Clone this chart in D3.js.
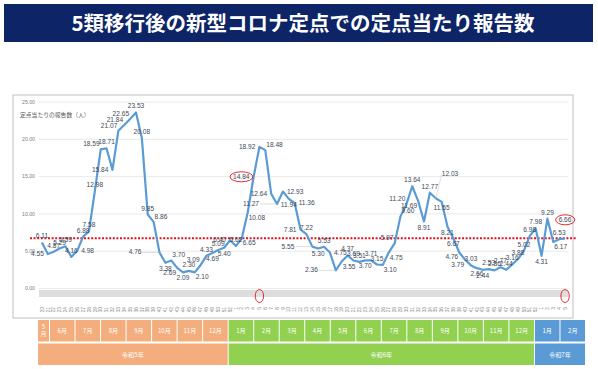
<!DOCTYPE html>
<html><head><meta charset="utf-8">
<script src="https://cdn.jsdelivr.net/npm/d3@7"></script>
<style>
body{margin:0;background:#fff;}
svg{display:block;font-family:"Noto Sans CJK JP","Noto Sans",sans-serif;}
</style>
</head><body><svg id="c" width="598" height="369"></svg>
<script>
// ---------- data ----------
const title = "5類移行後の新型コロナ定点での定点当たり報告数";
const yAxisTitle = "定点当たりの報告数（人）";
const weekLabels = ["20","21","22","23","24","25","26","27","28","29","30","31","32","33","34","35","36","37","38","39","40","41","42","43","44","45","46","47","48","49","50","51","52",
  "1","2","3","4","5","6","7","8","9","10","11","12","13","14","15","16","17","18","19","20","21","22","23","24","25","26","27","28","29","30","31","32","33","34","35","36","37","38","39","40","41","42","43","44","45","46","47","48","49","50","51","52",
  "1","2","3","4","5"];
const values = [6.11,4.55,4.87,5.29,5.59,4.16,4.98,6.88,7.58,12.98,18.59,18.71,15.84,21.07,21.84,22.65,23.53,20.08,9.85,8.86,
  4.76,3.38,3.70,2.69,2.09,2.30,2.10,3.09,4.33,4.69,5.09,5.40,6.40,5.62,
  6.65,10.08,14.84,18.92,18.48,12.64,11.27,12.93,11.94,11.36,7.81,7.22,5.55,5.30,5.53,4.75,2.36,3.55,4.37,3.69,3.51,3.70,3.71,3.15,3.10,4.75,
  5.97,9.60,11.20,13.64,11.69,8.91,12.77,12.03,11.55,8.21,6.67,4.76,3.79,3.03,2.66,2.44,2.53,2.36,2.77,2.44,3.16,3.88,5.02,6.98,7.98,4.31,
  9.29,6.17,6.53,6.66];
const yTicks = [0,5,10,15,20,25];
const referenceValue = 6.66;
const highlightValueIdx = [36, 89];
const highlightWeekIdx = [37, 89];
const monthLabels = ["5月","6月","7月","8月","9月","10月","11月","12月","1月","2月","3月","4月","5月","6月","7月","8月","9月","10月","11月","12月","1月","2月"];
const yearLabels = ["令和5年","令和6年","令和7年"];
const yearMonthCounts = [8,12,2];

// label placement codes (style only, one per point)
const labelSide = "tlttttrttt"+"LtlLLLtttR"+"FbRxbtyLtb"+"tbltyyllRl"+"FrbrltFbtr"+"Fytttbttyy"+"LRLtxbtUbb"+"bxxtbbtttt"+"tttttbtytV";

// ---------- layout ----------
const svg = d3.select("#c");
const yearColors = ["#F4AE7E","#92D050","#5B9BD5"];

// title bar
svg.append("rect").attr("x",4).attr("y",4).attr("width",589).attr("height",38).attr("fill","#0D2466");
svg.append("text").attr("x",303).attr("y",31).attr("text-anchor","middle")
  .attr("fill","#fff").attr("font-size",20.5).attr("font-weight",700).text(title);

// chart frame
svg.append("rect").attr("x",13).attr("y",95).attr("width",560).attr("height",223)
  .attr("fill","#fff").attr("stroke","#BFBFBF").attr("stroke-width",1);

const x = d3.scaleBand().domain(d3.range(values.length)).range([39,568]).padding(0);
const cx = i => x(i) + x.bandwidth()/2;
const y = d3.scaleLinear().domain([0,25]).range([288,101.5]);

// grid + y axis
const gy = svg.append("g").attr("transform","translate(39,0)")
  .call(d3.axisLeft(y).tickValues(yTicks).tickFormat(d=>d.toFixed(2)).tickSize(-529).tickPadding(4));
gy.select(".domain").remove();
gy.selectAll(".tick line").attr("stroke","#E4E4E4").attr("stroke-width",0.8);
gy.selectAll(".tick text").attr("fill","#808080").attr("font-size",5.2).attr("font-family","Liberation Sans, sans-serif");

svg.append("text").attr("x",20).attr("y",117).attr("font-size",5.8).attr("fill","#595959").text(yAxisTitle);

// x axis band + labels
svg.append("rect").attr("x",39).attr("y",290).attr("width",529).attr("height",7).attr("fill","#DDDDDD");
const gx = svg.append("g").attr("transform","translate(0,297)")
  .call(d3.axisBottom(x).tickFormat(i=>weekLabels[i]).tickSize(0).tickPadding(0));
gx.select(".domain").remove();
gx.selectAll(".tick text")
  .attr("font-size",4.8).attr("fill","#8A8A8A").attr("font-family","Liberation Sans, sans-serif")
  .attr("text-anchor","end").attr("dy","0.35em")
  .attr("transform","translate(0,1) rotate(-90)").attr("x",-9).attr("y",0);

// reference line
svg.append("line").attr("x1",30).attr("x2",577).attr("y1",y(referenceValue)).attr("y2",y(referenceValue))
  .attr("stroke","#E0141E").attr("stroke-width",2).attr("stroke-dasharray","2,1.6");

// series line
svg.append("path").datum(values)
  .attr("d", d3.line().x((d,i)=>cx(i)).y(d=>y(d)))
  .attr("fill","none").attr("stroke","#5B9BD5").attr("stroke-width",2.2).attr("stroke-linejoin","round");

// data labels
const place = {
  t:[0,-4,"middle"], b:[0,8,"middle"], l:[-4,2,"end"], r:[4,2,"start"],
  L:[-1,-3,"end"], R:[1,-3,"start"], x:[-1,7,"end"], y:[1,7,"start"],
  F:[-18,2,"end"], U:[6,-22,"start"], V:[0,-16,"middle"]
};
const labels = svg.append("g");
const labelNodes = [];
values.forEach((v,i)=>{
  const code = labelSide[i] || "t";
  const p = place[code];
  const px = cx(i), py = y(v);
  if (code==="F" || code==="U") {
    labels.append("line").attr("x1",px).attr("y1",py).attr("x2",px+p[0]+(code==="F"?1:0)).attr("y2",py+p[1]-2)
      .attr("stroke","#BFBFBF").attr("stroke-width",0.5);
  }
  const t = labels.append("text").attr("x",px+p[0]).attr("y",py+p[1])
    .attr("text-anchor",p[2]).attr("font-size",6.6).attr("fill","#404A5A")
    .attr("font-family","Liberation Sans, Arial, sans-serif").text(v.toFixed(2));
  labelNodes[i]=t;
});

// highlight ellipses
highlightValueIdx.forEach(i=>{
  const b = labelNodes[i].node().getBBox();
  svg.append("ellipse").attr("cx",b.x+b.width/2).attr("cy",b.y+b.height/2)
    .attr("rx",b.width/2+3).attr("ry",b.height/2+1.5)
    .attr("fill","none").attr("stroke","#E0141E").attr("stroke-width",0.9);
});
highlightWeekIdx.forEach(i=>{
  svg.append("ellipse").attr("cx",cx(i)).attr("cy",296).attr("rx",4.2).attr("ry",6.5)
    .attr("fill","none").attr("stroke","#E0141E").attr("stroke-width",0.9);
});

// month / year bands
const unit = d3.scaleLinear().domain([0, 21.47]).range([38, 586]);
let acc = 0;
const monthStarts = monthLabels.map((m,k)=>{ const s=acc; acc += (k===0?0.47:1); return [s,acc]; });
const yearOfMonth = [];
yearMonthCounts.forEach((c,yi)=>{ for(let k=0;k<c;k++) yearOfMonth.push(yi); });
monthLabels.forEach((m,k)=>{
  const [s,e] = monthStarts[k];
  const x0 = unit(s), x1 = unit(e);
  svg.append("rect").attr("x",x0).attr("y",320).attr("width",x1-x0-1).attr("height",21.5)
    .attr("fill",yearColors[yearOfMonth[k]]);
  if (k===0) {
    const t = svg.append("text").attr("x",(x0+x1-1)/2).attr("y",329).attr("text-anchor","middle")
      .attr("fill","#fff").attr("font-size",6);
    t.append("tspan").attr("x",(x0+x1-1)/2).attr("dy",0).text(m[0]);
    t.append("tspan").attr("x",(x0+x1-1)/2).attr("dy",7).text(m.slice(1));
  } else {
    svg.append("text").attr("x",(x0+x1-1)/2).attr("y",333).attr("text-anchor","middle")
      .attr("fill","#fff").attr("font-size",6).text(m);
  }
});
let mc = 0;
yearLabels.forEach((yl,yi)=>{
  const s = monthStarts[mc][0];
  const e = monthStarts[mc+yearMonthCounts[yi]-1][1];
  mc += yearMonthCounts[yi];
  const x0 = unit(s), x1 = unit(e);
  svg.append("rect").attr("x",x0).attr("y",343.5).attr("width",x1-x0-1).attr("height",21.5)
    .attr("fill",yearColors[yi]);
  svg.append("text").attr("x",(x0+x1-1)/2).attr("y",356.5).attr("text-anchor","middle")
    .attr("fill","#fff").attr("font-size",6.2).text(yl);
});
</script>
</body></html>
